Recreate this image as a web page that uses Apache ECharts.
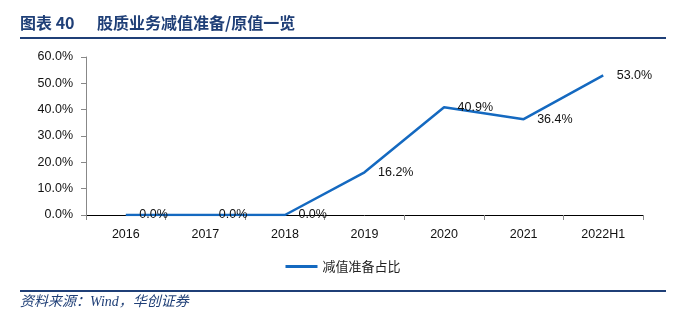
<!DOCTYPE html>
<html><head><meta charset="utf-8">
<script src="https://cdn.jsdelivr.net/npm/echarts@6/dist/echarts.min.js"></script>
<style>html,body{margin:0;padding:0;background:#fff}#c{width:686px;height:323px}</style>
</head><body><div id="c"></div>
<script>
const categories = ['2016','2017','2018','2019','2020','2021','2022H1'];
const seriesName = '减值准备占比';
const values = [0.0, 0.0, 0.0, 16.2, 40.9, 36.4, 53.0];
const yTicks = [0, 10, 20, 30, 40, 50, 60];
const titleNo = '图表 40';
const titleText = '股质业务减值准备/原值一览';
const sourceText = '资料来源：Wind，华创证券';

const chart = echarts.init(document.getElementById('c'), null, {renderer:'canvas'});
const navy = '#1F3F77';
const blue = '#1469C0';
chart.setOption({
  animation:false,
  grid:{left:86, right:43, top:57, bottom:108},
  xAxis:{type:'category', data:categories, boundaryGap:true,
    axisLine:{lineStyle:{color:'#000', width:1}},
    axisTick:{show:true, alignWithLabel:false, length:5, lineStyle:{color:'#888'}},
    axisLabel:{color:'#111', fontSize:12.5, fontFamily:'"Liberation Sans", Arial, sans-serif', margin:13}},
  yAxis:{type:'value', min:yTicks[0], max:yTicks[yTicks.length-1], interval:10,
    axisLine:{show:true, lineStyle:{color:'#888'}},
    axisTick:{show:true, length:5, lineStyle:{color:'#888'}},
    splitLine:{show:false},
    axisLabel:{color:'#111', fontSize:12.5, fontFamily:'"Liberation Sans", Arial, sans-serif', margin:13,
      formatter:v=>v.toFixed(1)+'%'}},
  legend:{show:true, bottom:45, left:'center', itemWidth:32, itemHeight:3, itemGap:8,
    icon:'rect',
    textStyle:{color:'#222', fontSize:13, fontFamily:'"Noto Sans CJK SC", sans-serif'},
    data:[{name:seriesName, itemStyle:{color:blue, opacity:1}}]},
  series:[{name:seriesName, type:'line', data:values, symbol:'circle', symbolSize:1, showSymbol:true,
    lineStyle:{color:blue, width:2.5}, itemStyle:{color:'rgba(0,0,0,0)'},
    labelLayout:{hideOverlap:false},
    label:{show:true, position:'right', distance:13, color:'#111', fontSize:12.5,
      fontFamily:'"Liberation Sans", Arial, sans-serif',
      formatter:p=>p.value.toFixed(1)+'%'}}],
  graphic:[
    {type:'text', left:20, top:15, style:{text:titleNo, fill:navy,
      font:'bold 16px "Noto Sans CJK SC", serif'}},
    {type:'text', left:97, top:15, style:{text:titleText, fill:navy,
      font:'bold 16px "Noto Sans CJK SC", serif'}},
    {type:'rect', shape:{x:20, y:37, width:646, height:2}, style:{fill:navy}},
    {type:'rect', shape:{x:20, y:290, width:646, height:2}, style:{fill:navy}},
    {type:'text', left:20, top:295, style:{text:sourceText, fill:navy,
      font:'italic 14px "Liberation Serif", "Noto Sans CJK SC", serif'}}
  ]
});
</script></body></html>
